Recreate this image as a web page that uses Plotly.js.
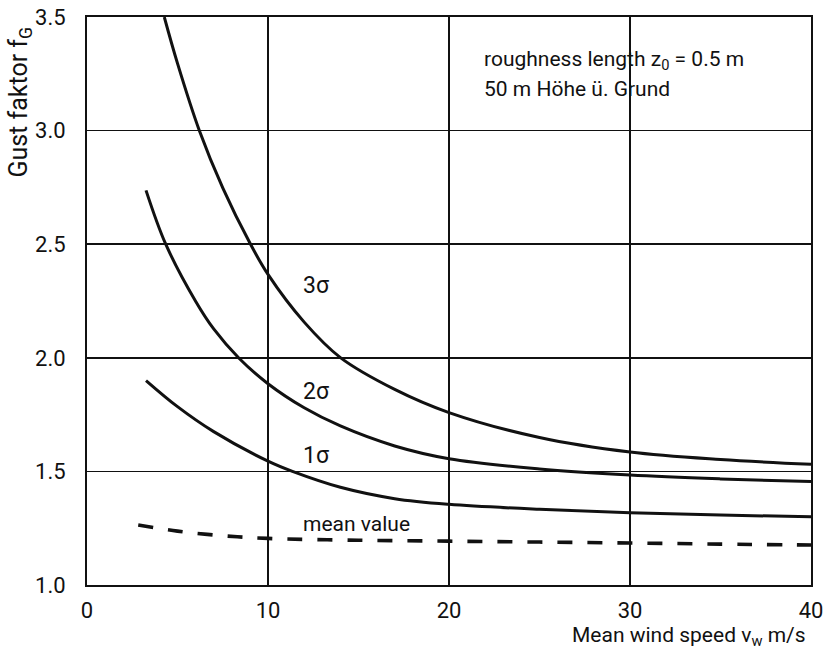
<!DOCTYPE html>
<html>
<head>
<meta charset="utf-8">
<script src="https://cdn.plot.ly/plotly-3.0.1.min.js"></script>
<style>
html,body{margin:0;padding:0;background:#fff;}
#chart{width:823px;height:654px;}
</style>
</head>
<body>
<div id="chart"></div>
<script>
const FONT = "Roboto, Liberation Sans, sans-serif";

const sigma3X = [4.27, 5, 6.2, 7.5, 9, 10, 12, 14, 17, 20, 25, 30, 35, 40];
const sigma3Y = [3.5, 3.296, 3.002, 2.748, 2.505, 2.367, 2.157, 2.001, 1.861, 1.759, 1.649, 1.585, 1.552, 1.531];

const sigma2X = [3.26, 4.35, 6, 7, 8.4, 10, 12, 14, 17, 20, 25, 30, 35, 40];
const sigma2Y = [2.737, 2.5, 2.249, 2.127, 1.998, 1.886, 1.78, 1.70, 1.612, 1.556, 1.511, 1.484, 1.467, 1.455];

const sigma1X = [3.26, 5, 7, 10, 11.35, 14, 17, 20, 25, 30, 35, 40];
const sigma1Y = [1.90, 1.785, 1.675, 1.545, 1.50, 1.43, 1.38, 1.355, 1.333, 1.318, 1.308, 1.30];

const meanX = [2.83, 5, 7.5, 10, 15, 20, 25, 30, 35, 40];
const meanY = [1.264, 1.237, 1.217, 1.205, 1.197, 1.193, 1.189, 1.185, 1.18, 1.176];

const xTicks = [0, 10, 20, 30, 40];
const xTickText = ["0", "10", "20", "30", "40"];
const yTicks = [1.0, 1.5, 2.0, 2.5, 3.0, 3.5];
const yTickText = ["1.0", "1.5", "2.0", "2.5", "3.0", "3.5"];

const lineStyle = {color: "#111", width: 3, shape: "spline", smoothing: 1.0};

const traces = [
  {x: sigma3X, y: sigma3Y, mode: "lines", line: lineStyle, hoverinfo: "skip"},
  {x: sigma2X, y: sigma2Y, mode: "lines", line: lineStyle, hoverinfo: "skip"},
  {x: sigma1X, y: sigma1Y, mode: "lines", line: lineStyle, hoverinfo: "skip"},
  {x: meanX, y: meanY, mode: "lines", line: {color: "#111", width: 3.6, dash: "15px,15px", shape: "spline"}, hoverinfo: "skip"}
];

const layout = {
  width: 823, height: 654,
  margin: {l: 87, r: 12, t: 17, b: 69},
  paper_bgcolor: "#fff", plot_bgcolor: "#fff",
  showlegend: false,
  font: {family: FONT, color: "#111", size: 20},
  xaxis: {
    range: [0, 40], tickvals: xTicks, ticktext: xTickText,
    showgrid: true, gridcolor: "#111", gridwidth: 1.5,
    showline: true, linecolor: "#111", linewidth: 2, mirror: true,
    ticks: "", zeroline: false, ticklabelstandoff: 5, ticklabeloverflow: "allow",
    tickfont: {family: FONT, size: 22, color: "#111"}
  },
  yaxis: {
    range: [1, 3.5], tickvals: yTicks, ticktext: yTickText,
    showgrid: true, gridcolor: "#111", gridwidth: 1.5,
    showline: true, linecolor: "#111", linewidth: 2, mirror: true,
    ticks: "", zeroline: false, ticklabelstandoff: 15, ticklabeloverflow: "allow",
    tickfont: {family: FONT, size: 22, color: "#111"}
  },
  annotations: [
    {xref: "paper", yref: "paper", x: 0.996, y: -0.0915, xanchor: "right", yanchor: "middle",
     text: "Mean wind speed v<sub>w</sub> m/s", showarrow: false, font: {family: FONT, size: 21, color: "#111"}},
    {xref: "paper", yref: "paper", x: -0.092, y: 0.85, xanchor: "center", yanchor: "middle", textangle: -90,
     text: "Gust faktor f<sub>G</sub>", showarrow: false, font: {family: FONT, size: 25, color: "#111"}},
    {xref: "x", yref: "y", x: 21.8, y: 3.307, xanchor: "left", yanchor: "middle",
     text: "roughness length z<sub>0</sub> = 0.5 m", showarrow: false, font: {family: FONT, size: 21, color: "#111"}},
    {xref: "x", yref: "y", x: 21.8, y: 3.184, xanchor: "left", yanchor: "middle",
     text: "50 m Höhe ü. Grund", showarrow: false, font: {family: FONT, size: 21, color: "#111"}},
    {xref: "x", yref: "y", x: 11.8, y: 2.32, xanchor: "left", yanchor: "middle",
     text: "3σ", showarrow: false, font: {family: FONT, size: 23, color: "#111"}},
    {xref: "x", yref: "y", x: 11.8, y: 1.85, xanchor: "left", yanchor: "middle",
     text: "2σ", showarrow: false, font: {family: FONT, size: 23, color: "#111"}},
    {xref: "x", yref: "y", x: 11.8, y: 1.57, xanchor: "left", yanchor: "middle",
     text: "1σ", showarrow: false, font: {family: FONT, size: 23, color: "#111"}},
    {xref: "x", yref: "y", x: 11.8, y: 1.27, xanchor: "left", yanchor: "middle",
     text: "mean value", showarrow: false, font: {family: FONT, size: 21, color: "#111"}}
  ]
};

Plotly.newPlot("chart", traces, layout, {staticPlot: true, displayModeBar: false});
</script>
</body>
</html>
